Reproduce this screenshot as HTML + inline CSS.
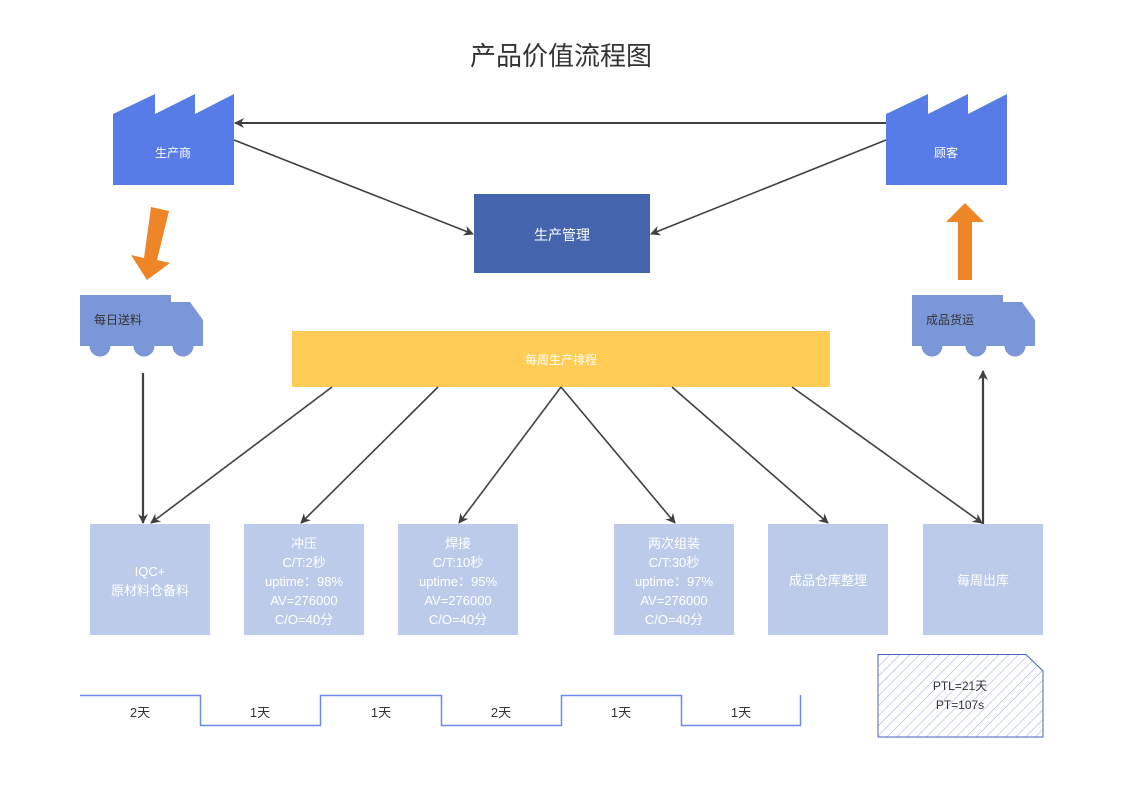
<!DOCTYPE html>
<html><head><meta charset="utf-8"><style>
html,body{margin:0;padding:0;background:#fff;}
svg{display:block;font-family:"Liberation Sans","Noto Sans CJK SC",sans-serif;}
</style></head><body>
<svg width="1123" height="794" viewBox="0 0 1123 794" xmlns="http://www.w3.org/2000/svg">
<defs>
<marker id="ah" markerWidth="10" markerHeight="10" refX="9" refY="5" orient="auto" markerUnits="userSpaceOnUse">
<path d="M0,0 L10,5 L0,10 L3,5 Z" fill="#404040"/></marker>
<pattern id="hatch" width="7" height="7" patternUnits="userSpaceOnUse" patternTransform="rotate(45)">
<line x1="0" y1="0" x2="0" y2="7" stroke="#7c8fd0" stroke-width="0.8"/></pattern>
</defs>
<text x="561" y="65" font-size="26" fill="#333" text-anchor="middle">产品价值流程图</text>

<!-- factories -->
<path d="M113,114 L155,94 L155,114 L195,94 L195,114 L234,94 L234,185 L113,185 Z" fill="#577ce8"/>
<text x="173" y="157" font-size="12" fill="#fff" text-anchor="middle">生产商</text>
<path d="M886,114 L928,94 L928,114 L968,94 L968,114 L1007,94 L1007,185 L886,185 Z" fill="#577ce8"/>
<text x="946" y="157" font-size="12" fill="#fff" text-anchor="middle">顾客</text>

<!-- management -->
<rect x="474" y="194" width="176" height="79" fill="#4464ad"/>
<text x="562" y="240" font-size="14" fill="#fff" text-anchor="middle">生产管理</text>

<!-- connectors top -->
<line x1="886" y1="123" x2="235" y2="123" stroke="#404040" stroke-width="2" marker-end="url(#ah)"/>
<line x1="234" y1="140" x2="473" y2="234" stroke="#404040" stroke-width="1.6" marker-end="url(#ah)"/>
<line x1="886" y1="140" x2="651" y2="234" stroke="#404040" stroke-width="1.6" marker-end="url(#ah)"/>

<!-- orange arrows -->
<path d="M151,207 L169,211 L157,260 L170,263 L147,280 L131,255 L144,258 Z" fill="#ee8527"/>
<path d="M958,280 L972,280 L972,222 L984,222 L965,203 L946,222 L958,222 Z" fill="#ee8527"/>

<!-- trucks -->
<g fill="#7b97d8">
<path d="M80,295 L171,295 L171,302 L190,302 L203,320 L203,346 L80,346 Z"/>
<circle cx="100" cy="346" r="10.5"/><circle cx="144" cy="346" r="10.5"/><circle cx="183" cy="346" r="10.5"/>
<path d="M912,295 L1003,295 L1003,302 L1022,302 L1035,320 L1035,346 L912,346 Z"/>
<circle cx="932" cy="346" r="10.5"/><circle cx="976" cy="346" r="10.5"/><circle cx="1015" cy="346" r="10.5"/>
</g>
<text x="94" y="324" font-size="12" fill="#333">每日送料</text>
<text x="926" y="324" font-size="12" fill="#333">成品货运</text>

<!-- schedule -->
<rect x="292" y="331" width="538" height="56" fill="#ffcc55"/>
<text x="561" y="364" font-size="12" fill="#fff" text-anchor="middle">每周生产排程</text>

<g stroke="#404040" stroke-width="1.6">
<line x1="143" y1="373" x2="143" y2="523" stroke-width="2.2" marker-end="url(#ah)"/>
<line x1="332" y1="387" x2="151" y2="523" marker-end="url(#ah)"/>
<line x1="438" y1="387" x2="301" y2="523" marker-end="url(#ah)"/>
<line x1="561" y1="387" x2="459" y2="523" marker-end="url(#ah)"/>
<line x1="561" y1="387" x2="675" y2="523" marker-end="url(#ah)"/>
<line x1="672" y1="387" x2="828" y2="523" marker-end="url(#ah)"/>
<line x1="792" y1="387" x2="982" y2="523" marker-end="url(#ah)"/>
<line x1="983" y1="524" x2="983" y2="371" stroke-width="2.2" marker-end="url(#ah)"/>
</g>

<!-- process boxes -->
<g fill="#bccbe9">
<rect x="90" y="524" width="120" height="111"/>
<rect x="244" y="524" width="120" height="111"/>
<rect x="398" y="524" width="120" height="111"/>
<rect x="614" y="524" width="120" height="111"/>
<rect x="768" y="524" width="120" height="111"/>
<rect x="923" y="524" width="120" height="111"/>
</g>
<g font-size="13" fill="#fff" text-anchor="middle">
<text x="150" y="576">IQC+</text><text x="150" y="595">原材料仓备料</text>
<text x="304" y="548">冲压</text><text x="304" y="567">C/T:2秒</text><text x="304" y="586">uptime：98%</text><text x="304" y="605">AV=276000</text><text x="304" y="624">C/O=40分</text>
<text x="458" y="548">焊接</text><text x="458" y="567">C/T:10秒</text><text x="458" y="586">uptime：95%</text><text x="458" y="605">AV=276000</text><text x="458" y="624">C/O=40分</text>
<text x="674" y="548">两次组装</text><text x="674" y="567">C/T:30秒</text><text x="674" y="586">uptime：97%</text><text x="674" y="605">AV=276000</text><text x="674" y="624">C/O=40分</text>
<text x="828" y="585">成品仓库整理</text>
<text x="983" y="585">每周出库</text>
</g>

<!-- timeline -->
<path d="M80,695.5 L200.5,695.5 L200.5,725.5 L320.5,725.5 L320.5,695.5 L441.5,695.5 L441.5,725.5 L561.5,725.5 L561.5,695.5 L681.5,695.5 L681.5,725.5 L800.5,725.5 L800.5,695" fill="none" stroke="#6c8ce8" stroke-width="1.5"/>
<g font-size="13" fill="#333" text-anchor="middle">
<text x="140" y="717">2天</text><text x="260" y="717">1天</text><text x="381" y="717">1天</text>
<text x="501" y="717">2天</text><text x="621" y="717">1天</text><text x="741" y="717">1天</text>
</g>

<!-- PTL -->
<path d="M878,654.5 L1026,654.5 L1043,671 L1043,737 L878,737 Z" fill="url(#hatch)" stroke="#4a66b8" stroke-width="1"/>
<text x="960" y="690" font-size="12" fill="#333" text-anchor="middle">PTL=21天</text>
<text x="960" y="709" font-size="12" fill="#333" text-anchor="middle">PT=107s</text>
</svg>
</body></html>
